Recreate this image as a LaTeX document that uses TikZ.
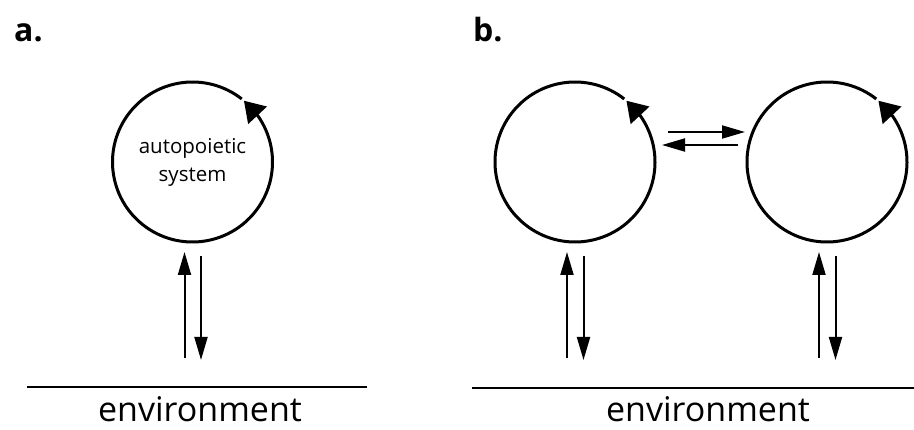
\documentclass[tikz,border=0pt]{standalone}
\usepackage{fontspec}
\setmainfont{Open Sans}
\usetikzlibrary{arrows.meta,bending}

\begin{document}
\begin{tikzpicture}[x=1pt,y=1pt,>={Triangle[length=23pt,width=13pt]}]
    \tikzset{sys/.style={circle,minimum size=160pt,inner sep=0pt,outer sep=0pt,align=center,font=\fontsize{20.5}{28}\selectfont},
             cyc/.style={line width=3pt,-{Triangle[length=20pt,width=25pt,flex]}},
             ar/.style={->,line width=2pt},
             gnd/.style={line width=2pt},
             lbl/.style={anchor=base west,inner sep=0pt,font=\fontsize{32}{36}\selectfont\bfseries},
             env/.style={anchor=base,inner sep=0pt,font=\fontsize{34}{40}\selectfont}}
    \useasboundingbox (0,0) rectangle (914,429);
    \node[lbl] (la) at (14,387) {a.};
    \node[lbl] (lb) at (473,387) {b.};
    \node[sys] (a) at (192.5,267) {autopoietic\\system};
    \node[sys] (b1) at (575,267) {};
    \node[sys] (b2) at (827,267) {};
    \coordinate (ga1) at (27,42); \coordinate (ga2) at (367,42);
    \coordinate (gb1) at (472,41); \coordinate (gb2) at (914,41);
    \draw[gnd] (ga1) -- (ga2); \draw[gnd] (gb1) -- (gb2);
    \node[env] (ea) at (200,8) {environment};
    \node[env] (eb) at (708,8) {environment};
    \foreach \s in {a,b1,b2} {
      \draw[cyc] (\s.52) arc[start angle=52,end angle=410,radius=80pt];
      \draw[ar] ([shift={(-8pt,-196pt)}]\s.center) -- ([shift={(-8pt,-90pt)}]\s.center);
      \draw[ar] ([shift={(8.5pt,-94pt)}]\s.center) -- ([shift={(8.5pt,-198pt)}]\s.center);
    }
    \draw[ar] ([shift={(93pt,30pt)}]b1.center) -- ([shift={(-82pt,30pt)}]b2.center);
    \draw[ar] ([shift={(-89pt,17pt)}]b2.center) -- ([shift={(87pt,17pt)}]b1.center);
\end{tikzpicture}
\end{document}
